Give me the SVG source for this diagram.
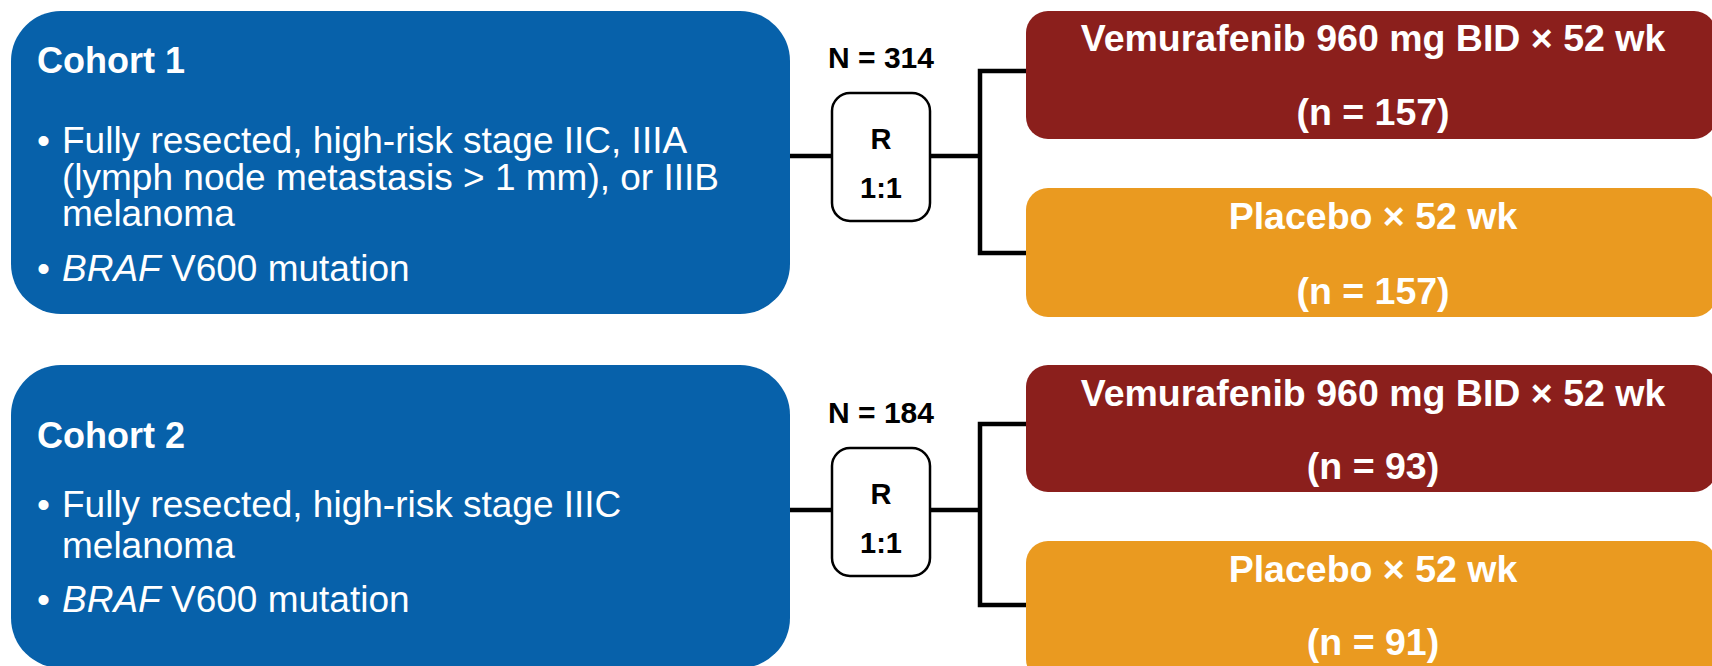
<svg xmlns="http://www.w3.org/2000/svg" width="1712" height="666" viewBox="0 0 1712 666">
<style>
.cohort{fill:#0761AA}
.vem{fill:#8B1F1C}
.pla{fill:#EA9A20}
.rbox{fill:#FFFFFF;stroke:#000;stroke-width:2.5}
.h{font-family:"Liberation Sans",Arial,sans-serif;font-weight:bold;font-size:36px;fill:#fff}
.b{font-family:"Liberation Sans",Arial,sans-serif;font-size:37px;fill:#fff}
.arm{font-family:"Liberation Sans",Arial,sans-serif;font-weight:bold;font-size:37.5px;fill:#fff;text-anchor:middle}
.n{font-family:"Liberation Sans",Arial,sans-serif;font-weight:bold;font-size:30px;fill:#000;text-anchor:middle}
.r{font-family:"Liberation Sans",Arial,sans-serif;font-weight:bold;font-size:29px;fill:#000;text-anchor:middle}
.ln{stroke:#000;stroke-width:4.5;fill:none}
</style>
<g id="connectors">
<line class="ln" x1="790" y1="156" x2="832" y2="156"/>
<line class="ln" x1="930" y1="156" x2="980" y2="156"/>
<polyline class="ln" points="1026,71 980,71 980,253 1026,253"/>
<line class="ln" x1="790" y1="510" x2="832" y2="510"/>
<line class="ln" x1="930" y1="510" x2="980" y2="510"/>
<polyline class="ln" points="1026,424 980,424 980,605 1026,605"/>
</g>
<g id="cohort1">
<rect class="cohort" x="11" y="11" width="779" height="303" rx="50"/>
<text class="h" x="37" y="73">Cohort 1</text>
<text class="b" x="37" y="153">•</text>
<text class="b" x="62" y="153">Fully resected, high-risk stage IIC, IIIA</text>
<text class="b" x="62" y="190">(lymph node metastasis &gt; 1 mm), or IIIB</text>
<text class="b" x="62" y="226">melanoma</text>
<text class="b" x="37" y="281">•</text>
<text class="b" x="62" y="281"><tspan font-style="italic">BRAF</tspan> V600 mutation</text>
</g>
<g id="cohort2">
<rect class="cohort" x="11" y="365" width="779" height="303" rx="50"/>
<text class="h" x="37" y="448">Cohort 2</text>
<text class="b" x="37" y="517">•</text>
<text class="b" x="62" y="517">Fully resected, high-risk stage IIIC</text>
<text class="b" x="62" y="558">melanoma</text>
<text class="b" x="37" y="612">•</text>
<text class="b" x="62" y="612"><tspan font-style="italic">BRAF</tspan> V600 mutation</text>
</g>
<g id="rand1">
<text class="n" x="881" y="68">N = 314</text>
<rect class="rbox" x="832" y="93" width="98" height="128" rx="18"/>
<text class="r" x="881" y="149">R</text>
<text class="r" x="881" y="198">1:1</text>
</g>
<g id="rand2">
<text class="n" x="881" y="423">N = 184</text>
<rect class="rbox" x="832" y="448" width="98" height="128" rx="18"/>
<text class="r" x="881" y="504">R</text>
<text class="r" x="881" y="553">1:1</text>
</g>
<g id="vem1">
<rect class="vem" x="1026" y="11" width="690" height="128" rx="22"/>
<text class="arm" x="1373" y="51">Vemurafenib 960 mg BID × 52 wk</text>
<text class="arm" x="1373" y="125">(n = 157)</text>
</g>
<g id="pla1">
<rect class="pla" x="1026" y="188" width="690" height="129" rx="22"/>
<text class="arm" x="1373" y="229">Placebo × 52 wk</text>
<text class="arm" x="1373" y="304">(n = 157)</text>
</g>
<g id="vem2">
<rect class="vem" x="1026" y="365" width="690" height="127" rx="22"/>
<text class="arm" x="1373" y="406">Vemurafenib 960 mg BID × 52 wk</text>
<text class="arm" x="1373" y="479">(n = 93)</text>
</g>
<g id="pla2">
<rect class="pla" x="1026" y="541" width="690" height="140" rx="22"/>
<text class="arm" x="1373" y="582">Placebo × 52 wk</text>
<text class="arm" x="1373" y="655">(n = 91)</text>
</g>
</svg>
